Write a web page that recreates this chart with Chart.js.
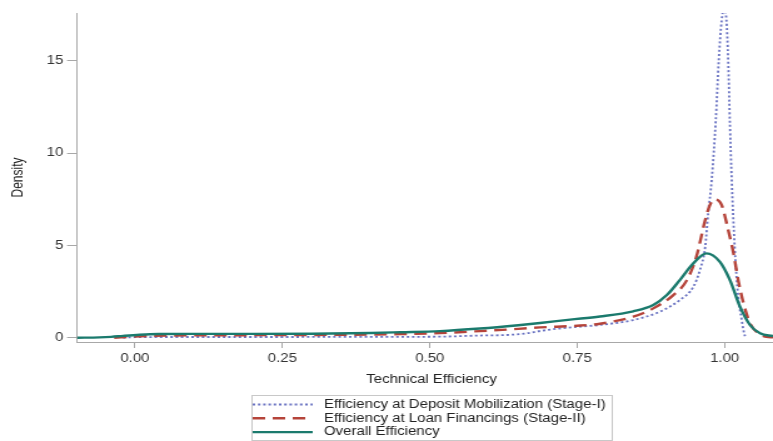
<!DOCTYPE html>
<html>
<head>
<meta charset="utf-8">
<script src="https://cdn.jsdelivr.net/npm/chart.js@4.4.0/dist/chart.umd.min.js"></script>
<style>
  html, body { margin: 0; padding: 0; background: #fff; }
  #chart { display: block; }
</style>
</head>
<body>
<!-- the reference is a horizontally stretched image, so the canvas is drawn narrow and widened by css -->
<canvas id="chart" width="618" height="441" style="width:773px;height:441px"></canvas>
<script>
const xTicks = [0, 0.25, 0.5, 0.75, 1.0];
const yTicks = [0, 5, 10, 15];

const depositX = [-0.02, 0.0, 0.05, 0.15, 0.25, 0.35, 0.45, 0.52, 0.585, 0.63, 0.66, 0.69, 0.72, 0.755, 0.7885, 0.845, 0.89, 0.924, 0.947, 0.958, 0.967, 0.972, 0.978, 0.985, 0.99, 0.995, 0.999, 1.003, 1.006, 1.009, 1.012, 1.017, 1.023, 1.029, 1.033, 1.036];
const depositY = [0.0, 0.03, 0.04, 0.04, 0.04, 0.05, 0.05, 0.06, 0.12, 0.15, 0.22, 0.38, 0.5, 0.6, 0.69, 0.96, 1.41, 2.04, 2.76, 3.66, 4.92, 6.73, 8.53, 11.8, 15.0, 17.2, 17.8, 17.2, 15.0, 11.5, 8.53, 4.92, 2.22, 0.96, 0.24, 0.0];

const loanX = [-0.035, 0.0, 0.03, 0.06, 0.1, 0.2, 0.3, 0.4, 0.45, 0.517, 0.585, 0.65, 0.687, 0.75, 0.7885, 0.845, 0.879, 0.913, 0.936, 0.952, 0.967, 0.975, 0.983, 0.995, 1.006, 1.015, 1.023, 1.032, 1.043, 1.057, 1.071, 1.082];
const loanY = [0.0, 0.06, 0.1, 0.12, 0.13, 0.14, 0.15, 0.17, 0.2, 0.25, 0.36, 0.48, 0.56, 0.65, 0.76, 1.14, 1.59, 2.31, 3.12, 4.38, 6.37, 7.18, 7.49, 7.18, 5.83, 4.57, 3.12, 1.86, 0.78, 0.24, 0.05, 0.02];

const overallX = [-0.098, -0.06, -0.04, -0.02, 0.008, 0.04, 0.1, 0.2, 0.3, 0.4, 0.45, 0.517, 0.585, 0.65, 0.687, 0.738, 0.7885, 0.845, 0.879, 0.902, 0.924, 0.947, 0.969, 0.992, 1.009, 1.026, 1.043, 1.06, 1.082];
const overallY = [0.0, 0.02, 0.05, 0.1, 0.16, 0.2, 0.21, 0.21, 0.22, 0.26, 0.3, 0.36, 0.5, 0.68, 0.8, 0.98, 1.15, 1.43, 1.77, 2.31, 3.12, 4.03, 4.57, 4.11, 3.12, 1.68, 0.69, 0.24, 0.09];

const xTitle = 'Technical Efficiency';
const yTitle = 'Density';

const FONT = '"Liberation Sans", Arial, sans-serif';
Chart.defaults.font.family = FONT;
Chart.defaults.font.size = 12;
Chart.defaults.color = '#333';

function pts(xs, ys) {
    return xs.map((x, i) => ({ x: x, y: ys[i] }));
}

// legend frame and x title, drawn by hand like the original
const legendBox = {
    id: 'legendBox',
    afterDraw(chart) {
        const ctx = chart.ctx;
        ctx.save();
        ctx.font = '12px ' + FONT;
        ctx.fillStyle = '#222';
        ctx.textAlign = 'center';
        ctx.textBaseline = 'middle';
        ctx.fillText(xTitle, 345, 380);

        ctx.strokeStyle = '#c8c8c8';
        ctx.lineWidth = 1;
        ctx.strokeRect(201.5, 395.5, 288, 45);

        chart.data.datasets.forEach((ds, i) => {
            const y = 404.5 + i * 13.8;
            ctx.beginPath();
            ctx.setLineDash(ds.borderDash || []);
            ctx.strokeStyle = ds.borderColor;
            ctx.lineWidth = ds.borderWidth;
            ctx.moveTo(202, y);
            ctx.lineTo(250, y);
            ctx.stroke();
            ctx.setLineDash([]);
            ctx.textAlign = 'left';
            ctx.fillStyle = '#222';
            ctx.fillText(ds.label, 259, y);
        });
        ctx.restore();
    }
};

new Chart(document.getElementById('chart'), {
    type: 'line',
    data: {
        datasets: [
            { label: 'Efficiency at Deposit Mobilization (Stage-I)', data: pts(depositX, depositY),
              borderColor: '#6a73c2', borderWidth: 1.8, borderDash: [2, 2.2], order: 3 },
            { label: 'Efficiency at Loan Financings (Stage-II)', data: pts(loanX, loanY),
              borderColor: '#b5443a', borderWidth: 2.4, borderDash: [10, 6], order: 2 },
            { label: 'Overall Efficiency', data: pts(overallX, overallY),
              borderColor: '#1b7a6d', borderWidth: 2.4, order: 1 }
        ]
    },
    options: {
        responsive: false,
        devicePixelRatio: 1,
        animation: false,
        layout: { padding: { top: 13, left: 0, right: 0, bottom: 49 } },
        elements: {
            point: { radius: 0 },
            line: { fill: false, cubicInterpolationMode: 'monotone' }
        },
        plugins: { legend: { display: false }, tooltip: { enabled: false } },
        scales: {
            x: {
                type: 'linear',
                min: -0.098,
                max: 1.082,
                afterBuildTicks: s => { s.ticks = xTicks.map(v => ({ value: v })); },
                afterFit: s => { s.height = 50; },
                ticks: { callback: v => v.toFixed(2), padding: 3, maxRotation: 0, color: '#333' },
                grid: { drawOnChartArea: false, drawTicks: true, tickLength: 6, color: '#a8a8a8' },
                border: { color: '#a8a8a8', width: 1 }
            },
            y: {
                min: -0.23,
                max: 17.58,
                afterBuildTicks: s => { s.ticks = yTicks.map(v => ({ value: v })); },
                afterFit: s => { s.width = 61.6; },
                ticks: { padding: 3, color: '#333' },
                grid: { drawOnChartArea: false, drawTicks: true, tickLength: 8, color: '#a8a8a8' },
                border: { color: '#a8a8a8', width: 1 },
                title: { display: true, text: yTitle, color: '#222', font: { size: 12 }, padding: { top: 7.5, bottom: 0 } }
            }
        }
    },
    plugins: [legendBox]
});
</script>
</body>
</html>
